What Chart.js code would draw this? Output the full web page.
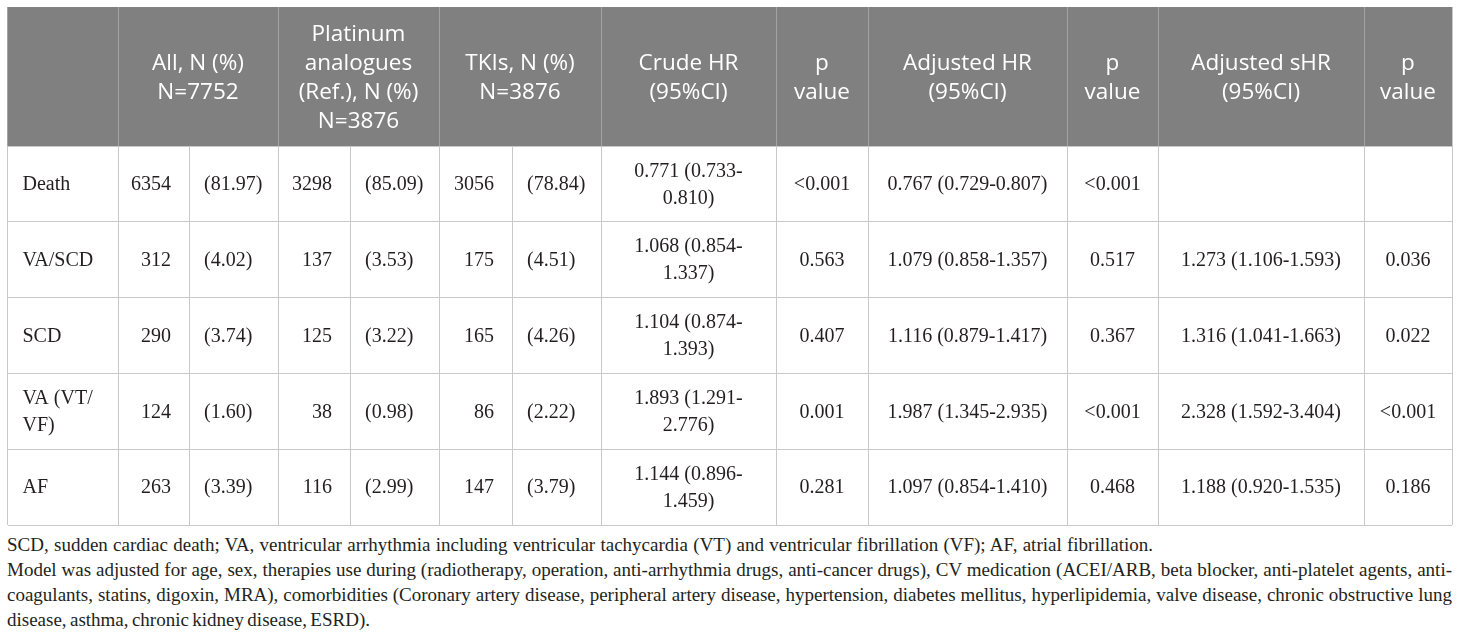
<!DOCTYPE html>
<html>
<head>
<meta charset="utf-8">
<title>Outcomes table</title>
<script src="https://cdn.jsdelivr.net/npm/chart.js@4.4.1/dist/chart.umd.min.js"></script>
<style>
  html, body { margin: 0; padding: 0; background: #fff; }
  #wrap { position: relative; width: 1460px; height: 530px; }
  .note {
    width: 1445px;
    margin: 2px 0 0 7px;
    font-family: "Liberation Serif", serif;
    font-size: 19px;
    line-height: 25px;
    color: #231f20;
  }
  .note div { white-space: nowrap; }
  .note span { display: inline-block; }
</style>
</head>
<body>
<div id="wrap"><canvas id="tableChart"></canvas></div>
<div class="note">
  <div><span data-w="1146">SCD, sudden cardiac death; VA, ventricular arrhythmia including ventricular tachycardia (VT) and ventricular fibrillation (VF); AF, atrial fibrillation.</span></div>
  <div><span data-w="1445">Model was adjusted for age, sex, therapies use during (radiotherapy, operation, anti-arrhythmia drugs, anti-cancer drugs), CV medication (ACEI/ARB, beta blocker, anti-platelet agents, anti-</span></div>
  <div><span data-w="1445">coagulants, statins, digoxin, MRA), comorbidities (Coronary artery disease, peripheral artery disease, hypertension, diabetes mellitus, hyperlipidemia, valve disease, chronic obstructive lung</span></div>
  <div><span data-w="363">disease, asthma, chronic kidney disease, ESRD).</span></div>
</div>
<script>
'use strict';

// table data
var outcomes = ['Death', 'VA/SCD', 'SCD', 'VA (VT/VF)', 'AF'];
var allN = [6354, 312, 290, 124, 263];
var allPct = [81.97, 4.02, 3.74, 1.60, 3.39];
var platinumN = [3298, 137, 125, 38, 116];
var platinumPct = [85.09, 3.53, 3.22, 0.98, 2.99];
var tkiN = [3056, 175, 165, 86, 147];
var tkiPct = [78.84, 4.51, 4.26, 2.22, 3.79];
var crudeHR = ['0.771 (0.733-0.810)', '1.068 (0.854-1.337)', '1.104 (0.874-1.393)', '1.893 (1.291-2.776)', '1.144 (0.896-1.459)'];
var crudeP = ['<0.001', '0.563', '0.407', '0.001', '0.281'];
var adjustedHR = ['0.767 (0.729-0.807)', '1.079 (0.858-1.357)', '1.116 (0.879-1.417)', '1.987 (1.345-2.935)', '1.097 (0.854-1.410)'];
var adjustedP = ['<0.001', '0.517', '0.367', '<0.001', '0.468'];
var adjustedSHR = ['', '1.273 (1.106-1.593)', '1.316 (1.041-1.663)', '2.328 (1.592-3.404)', '1.188 (0.920-1.535)'];
var adjustedSP = ['', '0.036', '0.022', '<0.001', '0.186'];

var headerLabels = [
  [],
  ['All, N (%)', 'N=7752'],
  ['Platinum', 'analogues', '(Ref.), N (%)', 'N=3876'],
  ['TKIs, N (%)', 'N=3876'],
  ['Crude HR', '(95%CI)'],
  ['p', 'value'],
  ['Adjusted HR', '(95%CI)'],
  ['p', 'value'],
  ['Adjusted sHR', '(95%CI)'],
  ['p', 'value']
];

// layout
var colEdges = [0, 110.5, 181.5, 270.5, 342.5, 431.5, 504.5, 593.5, 768.5, 860.5, 1059.5, 1150.5, 1356.5, 1444.5];
var headerSpans = [[0, 1], [1, 3], [3, 5], [5, 7], [7, 8], [8, 9], [9, 10], [10, 11], [11, 12], [12, 13]];
var HEADER_H = 139;
var ROW_H = 75.8;
var rowEdges = [0, HEADER_H];
outcomes.forEach(function (o, i) { rowEdges.push(HEADER_H + ROW_H * (i + 1)); });

function pct(v) { return '(' + v.toFixed(2) + ')'; }

var bodyColumns = [
  { values: outcomes, align: 'left' },
  { values: allN.map(String), align: 'right' },
  { values: allPct.map(pct), align: 'left' },
  { values: platinumN.map(String), align: 'right' },
  { values: platinumPct.map(pct), align: 'left' },
  { values: tkiN.map(String), align: 'right' },
  { values: tkiPct.map(pct), align: 'left' },
  { values: crudeHR, align: 'center' },
  { values: crudeP, align: 'center' },
  { values: adjustedHR, align: 'center' },
  { values: adjustedP, align: 'center' },
  { values: adjustedSHR, align: 'center' },
  { values: adjustedSP, align: 'center' }
];

var BODY_FONT = '20px "Liberation Serif", serif';
var HEAD_FONT = '22.5px "Open Sans", sans-serif';
var PAD_L = 15;
var PAD_R = 18;

function wrapText(ctx, text, maxW) {
  if (ctx.measureText(text).width <= maxW) return [text];
  var best = -1;
  for (var i = 0; i < text.length; i++) {
    var c = text[i];
    if (c === ' ' || c === '-' || c === '/') {
      var head = c === ' ' ? text.slice(0, i) : text.slice(0, i + 1);
      if (ctx.measureText(head).width <= maxW) best = i;
    }
  }
  if (best < 0) return [text];
  var cut = text[best] === ' ' ? best : best + 1;
  return [text.slice(0, cut)].concat(wrapText(ctx, text.slice(best + 1).trim(), maxW));
}

var tablePlugin = {
  id: 'tableCells',
  beforeDatasetsDraw: function (chart) {
    var ctx = chart.ctx;
    var x = chart.scales.x;
    var y = chart.scales.y;
    var left = x.getPixelForValue(colEdges[0]);
    var right = x.getPixelForValue(colEdges[colEdges.length - 1]);
    var top = y.getPixelForValue(0);
    var bottom = y.getPixelForValue(HEADER_H);

    ctx.save();
    ctx.fillStyle = '#808080';
    ctx.fillRect(left, top, right - left, bottom - top);

    // header dividers
    ctx.strokeStyle = '#a3a3a3';
    ctx.lineWidth = 1;
    headerSpans.forEach(function (s, i) {
      if (i === 0) return;
      var px = Math.round(x.getPixelForValue(colEdges[s[0]])) + 0.5;
      ctx.beginPath();
      ctx.moveTo(px, top);
      ctx.lineTo(px, bottom);
      ctx.stroke();
    });

    // header text
    ctx.fillStyle = '#ffffff';
    ctx.font = HEAD_FONT;
    ctx.textAlign = 'center';
    ctx.textBaseline = 'middle';
    var headMid = (top + bottom) / 2 + 2;
    headerSpans.forEach(function (s, i) {
      var lines = headerLabels[i];
      var cx = (x.getPixelForValue(colEdges[s[0]]) + x.getPixelForValue(colEdges[s[1]])) / 2;
      lines.forEach(function (line, k) {
        ctx.fillText(line, cx, headMid + (k - (lines.length - 1) / 2) * 29);
      });
    });

    // body cells
    ctx.fillStyle = '#231f20';
    ctx.font = BODY_FONT;
    bodyColumns.forEach(function (col, c) {
      var x0 = x.getPixelForValue(colEdges[c]);
      var x1 = x.getPixelForValue(colEdges[c + 1]);
      col.values.forEach(function (text, r) {
        if (!text) return;
        var y0 = y.getPixelForValue(rowEdges[r + 1]);
        var y1 = y.getPixelForValue(rowEdges[r + 2]);
        var mid = (y0 + y1) / 2;
        var lines = wrapText(ctx, text, x1 - x0 - 2 * PAD_L);
        var tx;
        if (col.align === 'left') { ctx.textAlign = 'left'; tx = x0 + PAD_L; }
        else if (col.align === 'right') { ctx.textAlign = 'right'; tx = x1 - PAD_R; }
        else { ctx.textAlign = 'center'; tx = (x0 + x1) / 2; }
        lines.forEach(function (line, k) {
          ctx.fillText(line, tx, mid + 1 + (k - (lines.length - 1) / 2) * 27);
        });
      });
    });
    ctx.restore();
  }
};

function edgeTicks(edges) {
  return function (axis) {
    axis.ticks = edges.map(function (v) { return { value: v }; });
  };
}

// stretch or squeeze each footnote line to the width it has in the source
function fitNotes() {
  document.querySelectorAll('.note span[data-w]').forEach(function (span) {
    var target = parseFloat(span.getAttribute('data-w'));
    var gaps = (span.textContent.match(/ /g) || []).length;
    span.style.wordSpacing = '0px';
    var natural = span.getBoundingClientRect().width;
    if (gaps) span.style.wordSpacing = ((target - natural) / gaps) + 'px';
  });
}

document.fonts.load(HEAD_FONT).then(function () {
  return document.fonts.load(BODY_FONT);
}).catch(function () {}).then(function () {
  fitNotes();
  var canvas = document.getElementById('tableChart');
  new Chart(canvas.getContext('2d'), {
    type: 'scatter',
    data: { datasets: [] },
    options: {
      animation: false,
      responsive: true,
      maintainAspectRatio: false,
      events: [],
      layout: { padding: { left: 7.5, right: 8, top: 7, bottom: 5 } },
      plugins: {
        legend: { display: false },
        tooltip: { enabled: false }
      },
      scales: {
        x: {
          type: 'linear',
          min: colEdges[0],
          max: colEdges[colEdges.length - 1],
          afterBuildTicks: edgeTicks(colEdges),
          ticks: { display: false },
          grid: { color: '#c8c8c8', lineWidth: 1, drawTicks: false },
          border: { display: false }
        },
        y: {
          type: 'linear',
          reverse: true,
          min: rowEdges[0],
          max: rowEdges[rowEdges.length - 1],
          afterBuildTicks: edgeTicks(rowEdges),
          ticks: { display: false },
          grid: { color: '#c8c8c8', lineWidth: 1, drawTicks: false },
          border: { display: false }
        }
      }
    },
    plugins: [tablePlugin]
  });
});
</script>
</body>
</html>
